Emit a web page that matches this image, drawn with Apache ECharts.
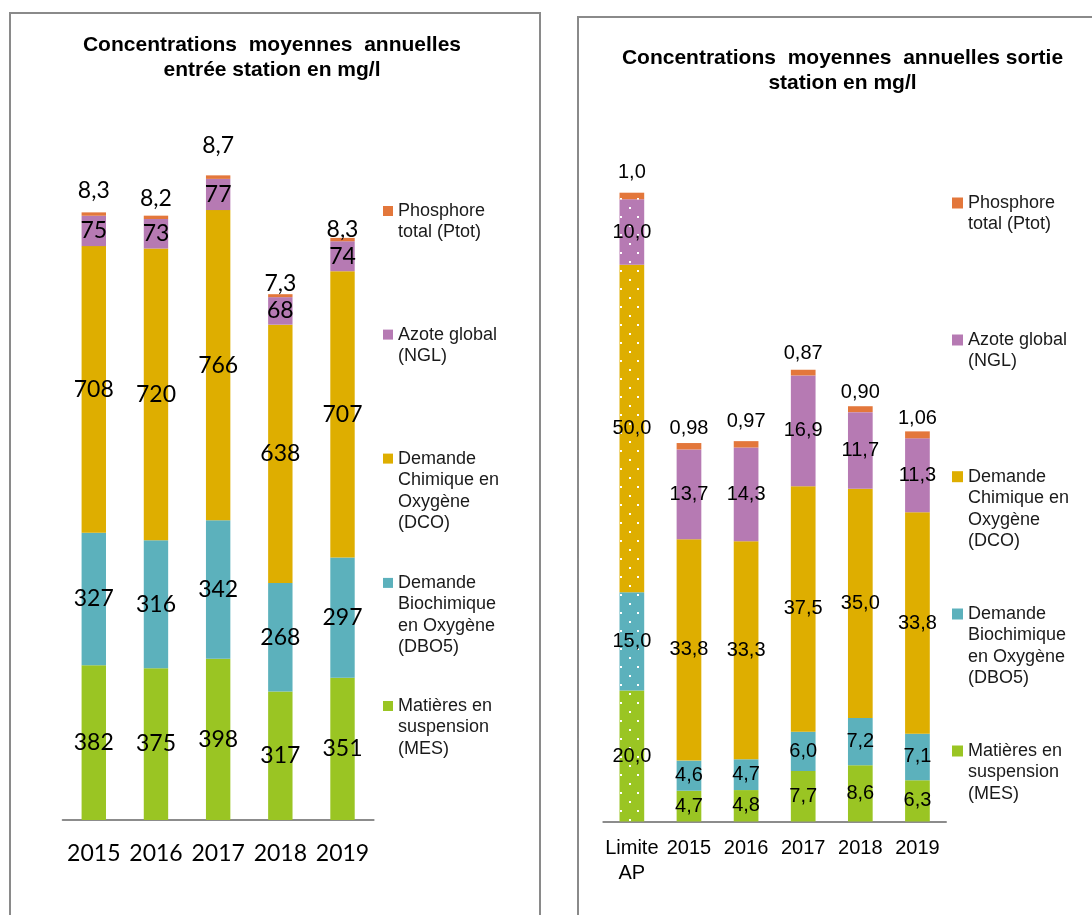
<!DOCTYPE html>
<html>
<head>
<meta charset="utf-8">
<title>Concentrations moyennes annuelles</title>
<script src="https://cdn.jsdelivr.net/npm/echarts@6/dist/echarts.min.js"></script>
<style>
  html, body { margin: 0; padding: 0; background: #fff; overflow: hidden; }
  .box { position: absolute; border: 2px solid #8a8a8a; }
  #boxIn { left: 9px; top: 12px; width: 528px; height: 960px; }
  #boxOut { left: 577px; top: 16px; width: 600px; height: 960px; }
  #chart { position: absolute; left: 0; top: 0; width: 1092px; height: 915px; }
</style>
</head>
<body>
<div class="box" id="boxIn"></div>
<div class="box" id="boxOut"></div>
<div id="chart"></div>
<script>
// entrée station (mg/l)
const inYears = ['2015', '2016', '2017', '2018', '2019'];
const inMES = [382, 375, 398, 317, 351];
const inDBO5 = [327, 316, 342, 268, 297];
const inDCO = [708, 720, 766, 638, 707];
const inNGL = [75, 73, 77, 68, 74];
const inPtot = [8.3, 8.2, 8.7, 7.3, 8.3];

// sortie station (mg/l)
const outCats = ['Limite\nAP', '2015', '2016', '2017', '2018', '2019'];
const outMES = [20.0, 4.7, 4.8, 7.7, 8.6, 6.3];
const outDBO5 = [15.0, 4.6, 4.7, 6.0, 7.2, 7.1];
const outDCO = [50.0, 33.8, 33.3, 37.5, 35.0, 33.8];
const outNGL = [10.0, 13.7, 14.3, 16.9, 11.7, 11.3];
const outPtot = [1.0, 0.98, 0.97, 0.87, 0.90, 1.06];

// how far each Ptot label sits above its bar (manually placed in the original)
const inPtotLift = [10, 6, 18, -1, -3];
const outPtotLift = [10, 5, 10, 6.5, 4, 3];

const COLORS = { mes: '#9AC523', dbo: '#5CB1BC', dco: '#DEAE00', ngl: '#B67AB3', ptot: '#E3773B' };
const NAMES = {
  ptot: 'Phosphore\ntotal (Ptot)',
  ngl: 'Azote global\n(NGL)',
  dco: 'Demande\nChimique en\nOxygène\n(DCO)',
  dbo: 'Demande\nBiochimique\nen Oxygène\n(DBO5)',
  mes: 'Matières en\nsuspension\n(MES)'
};

const comma = (v, d) => v.toFixed(d).replace('.', ',');

// white dots on the "Limite AP" bar
const dots = {
  symbol: 'rect', symbolSize: 1, color: '#ffffff',
  dashArrayX: [[2, 15], [0, 8, 2, 7]],
  dashArrayY: [2, 7]
};

const inLabel = { fontFamily: 'Lato', fontSize: 23, color: '#000' };
const outLabel = { fontFamily: 'Liberation Sans', fontSize: 20, color: '#000' };

function bars(key, values, side, fmt, lift) {
  const isIn = side === 'in';
  return {
    name: NAMES[key],
    type: 'bar',
    stack: side,
    xAxisIndex: isIn ? 0 : 1,
    yAxisIndex: isIn ? 0 : 1,
    barWidth: isIn ? 24.4 : 24.7,
    itemStyle: { color: COLORS[key] },
    label: Object.assign({
      show: true,
      position: lift ? 'top' : 'inside',
      formatter: p => fmt(p.value, p.dataIndex)
    }, isIn ? inLabel : outLabel),
    data: values.map((v, i) => {
      const item = { value: v };
      if (lift) item.label = { distance: lift[i] };
      if (!isIn && i === 0) item.itemStyle = { decal: dots };
      return item;
    })
  };
}

// one legend per entry: the marker sits beside the first line of text
function legendFor(key, x, y0, icon) {
  const lh = 21.5;
  const n = NAMES[key].split('\n').length;
  return {
    data: [NAMES[key]],
    orient: 'vertical',
    left: x,
    top: y0 - (2 * n - 1) * lh / 2,
    padding: 0,
    icon: 'rect',
    itemWidth: icon,
    itemHeight: icon,
    selectedMode: false,
    textStyle: {
      fontFamily: 'Liberation Sans', fontSize: 18, lineHeight: lh, color: '#1a1a1a',
      padding: [(n - 1) * lh, 0, 0, 0], backgroundColor: 'rgba(255,255,255,0)',
      rich: { t: {} }
    }
  };
}

const keys = ['ptot', 'ngl', 'dco', 'dbo', 'mes'];
const inLegendY = [211, 334.6, 458.6, 582.9, 706];
const outLegendY = [203, 340, 476.7, 614, 751];

const titleStyle = { fontFamily: 'Liberation Sans', fontWeight: 'bold', fontSize: 21, lineHeight: 25, color: '#000' };
const axisLine = { lineStyle: { color: '#8c8c8c', width: 2 } };

const option = {
  animation: false,
  title: [
    { text: 'Concentrations  moyennes  annuelles\nentrée station en mg/l', left: 272, top: 33, padding: 0, textAlign: 'center', textStyle: titleStyle },
    { text: 'Concentrations  moyennes  annuelles sortie\nstation en mg/l', left: 842.5, top: 46, padding: 0, textAlign: 'center', textStyle: titleStyle }
  ],
  legend: keys.map((k, i) => legendFor(k, 383, inLegendY[i], 10))
    .concat(keys.map((k, i) => legendFor(k, 952, outLegendY[i], 11))),
  grid: [
    { left: 62.7, top: 151.75, width: 310.9, height: 668.25 },
    { left: 603.3, top: 166.5, width: 342.7, height: 655 }
  ],
  xAxis: [
    {
      gridIndex: 0, type: 'category', data: inYears,
      axisLine: axisLine, axisTick: { length: 8, lineStyle: axisLine.lineStyle },
      axisLabel: { interval: 0, margin: 22, fontFamily: 'Lato', fontSize: 23, color: '#000' }
    },
    {
      gridIndex: 1, type: 'category', data: outCats,
      axisLine: axisLine, axisTick: { length: 8, lineStyle: axisLine.lineStyle },
      axisLabel: { interval: 0, margin: 14, fontFamily: 'Liberation Sans', fontSize: 20, lineHeight: 25, color: '#000' }
    }
  ],
  yAxis: [
    { gridIndex: 0, type: 'value', min: 0, max: 1650, show: false },
    { gridIndex: 1, type: 'value', min: 0, max: 100, show: false }
  ],
  series: [
    bars('mes', inMES, 'in', v => String(v)),
    bars('dbo', inDBO5, 'in', v => String(v)),
    bars('dco', inDCO, 'in', v => String(v)),
    bars('ngl', inNGL, 'in', v => String(v)),
    bars('ptot', inPtot, 'in', v => comma(v, 1), inPtotLift),
    bars('mes', outMES, 'out', v => comma(v, 1)),
    bars('dbo', outDBO5, 'out', v => comma(v, 1)),
    bars('dco', outDCO, 'out', v => comma(v, 1)),
    bars('ngl', outNGL, 'out', v => comma(v, 1)),
    bars('ptot', outPtot, 'out', (v, i) => comma(v, i === 0 ? 1 : 2), outPtotLift)
  ]
};

const chart = echarts.init(document.getElementById('chart'));
chart.setOption(option);
</script>
</body>
</html>
